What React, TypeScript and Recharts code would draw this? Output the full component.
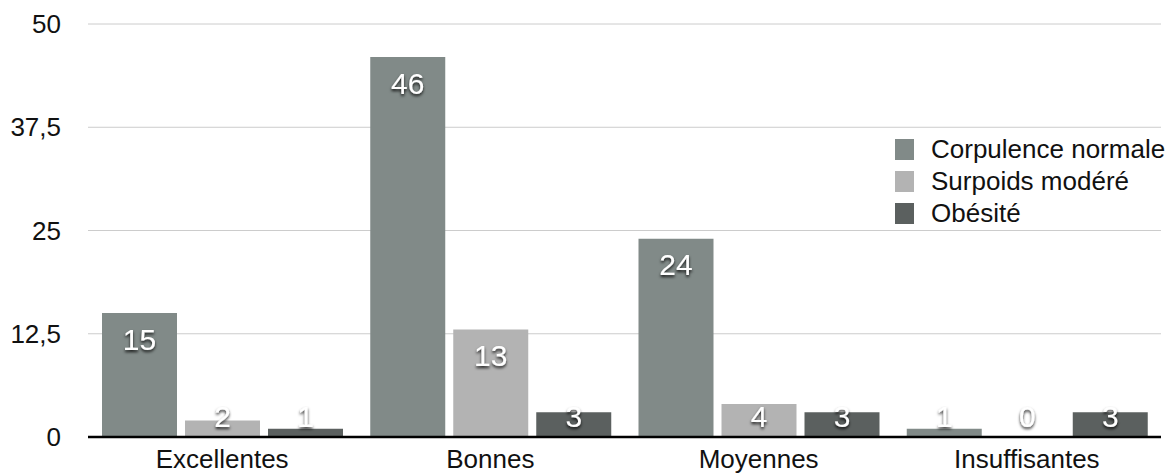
import React from 'react';
import { BarChart, Bar, XAxis, YAxis, CartesianGrid, Legend } from 'recharts';

const categories = ['Excellentes', 'Bonnes', 'Moyennes', 'Insuffisantes'];
const corpulenceNormale = [15, 46, 24, 1];
const surpoidsModere = [2, 13, 4, 0];
const obesite = [1, 3, 3, 3];
const yTicks = [0, 12.5, 25, 37.5, 50];

const seriesNames = ['Corpulence normale', 'Surpoids modéré', 'Obésité'];
const seriesKeys = ['normal', 'surpoids', 'obesite'];
const seriesColors = ['#818a88', '#b3b3b3', '#5b605f'];

const data = categories.map((c, i) => ({
  name: c,
  normal: corpulenceNormale[i],
  surpoids: surpoidsModere[i],
  obesite: obesite[i],
}));

const FONT = '"Liberation Sans", Arial, Helvetica, sans-serif';

const BarLabel = (props: any) => {
  const { x, y, width, height, value } = props;
  const base = y + height;
  const cy = Math.min(y + 26, base - 21);
  return (
    <text
      x={x + width / 2}
      y={cy}
      textAnchor="middle"
      dominantBaseline="central"
      fill="#ffffff"
      fontSize={30}
      fontFamily={FONT}
      filter="url(#lblShadow)"
    >
      {value}
    </text>
  );
};

const LegendContent = () => (
  <div style={{ fontFamily: FONT, fontSize: 26, color: '#111' }}>
    {seriesNames.map((n, i) => (
      <div key={n} style={{ display: 'flex', alignItems: 'center', height: 32, whiteSpace: 'nowrap' }}>
        <div style={{ width: 19, height: 21, background: seriesColors[i], marginRight: 17 }} />
        <span>{n}</span>
      </div>
    ))}
  </div>
);

export default function App() {
  return (
    <div style={{ position: 'absolute', left: 0, top: 0, width: 1173, height: 475, background: '#fff' }}>
      <BarChart
        width={1173}
        height={475}
        data={data}
        margin={{ top: 24, right: 12, left: 0, bottom: 8 }}
        barCategoryGap={14}
        barGap={8}
      >
        <defs>
          <filter id="lblShadow" x="-50%" y="-50%" width="200%" height="200%">
            <feDropShadow dx="0" dy="2" stdDeviation="1.5" floodColor="#000" floodOpacity="0.85" />
          </filter>
        </defs>
        <CartesianGrid vertical={false} stroke="#cccccc" strokeWidth={1} />
        <XAxis
          dataKey="name"
          height={30}
          axisLine={{ stroke: '#000', strokeWidth: 2.5 }}
          tickLine={false}
          tickSize={0}
          tickMargin={13}
          tick={{ fill: '#111', fontSize: 26, fontFamily: FONT }}
          interval={0}
        />
        <YAxis
          width={88}
          domain={[0, 50]}
          ticks={yTicks}
          axisLine={false}
          tickLine={false}
          tickSize={0}
          tickMargin={27}
          tickFormatter={(v: number) => String(v).replace('.', ',')}
          tick={{ fill: '#111', fontSize: 26, fontFamily: FONT }}
        />
        <Legend
          layout="vertical"
          align="center"
          verticalAlign="middle"
          content={<LegendContent />}
          wrapperStyle={{ position: 'absolute', left: 895, top: 133, width: 278, right: 'auto', bottom: 'auto' }}
        />
        {seriesKeys.map((k, i) => (
          <Bar
            key={k}
            dataKey={k}
            name={seriesNames[i]}
            fill={seriesColors[i]}
            isAnimationActive={false}
            minPointSize={0.01}
            label={<BarLabel />}
          />
        ))}
      </BarChart>
    </div>
  );
}
